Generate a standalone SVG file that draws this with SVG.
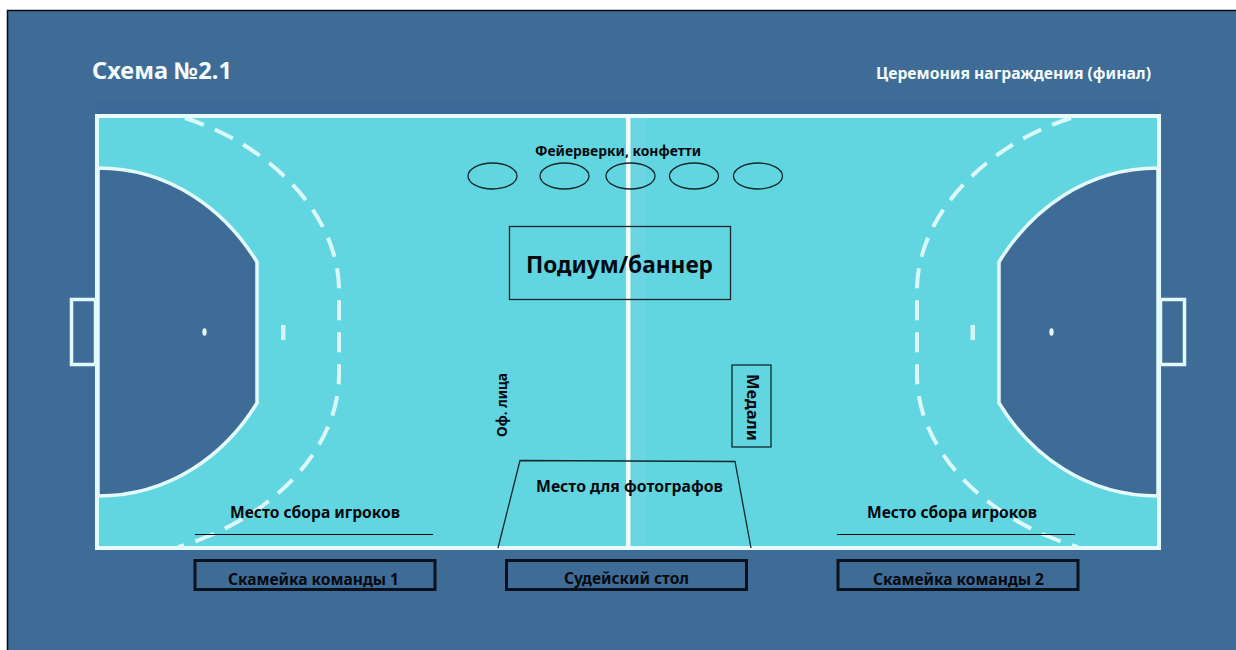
<svg xmlns="http://www.w3.org/2000/svg" xmlns:xlink="http://www.w3.org/1999/xlink" width="1236" height="650" viewBox="0 0 1236 650">
<style>
.t{font-family:"Noto Sans","Open Sans","Liberation Sans",sans-serif;font-weight:700;fill:#050a10}
.w{fill:#f4fbfd}
.line{stroke:#e4f9fb;stroke-width:3.500}
.dash{fill:none;stroke:#dcf8fa;stroke-width:4;stroke-dasharray:20 12}
.box{fill:none;stroke:#08111c;stroke-width:3}
.thin{fill:none;stroke:#12262c;stroke-width:1.300}
</style>
<defs>
<g id="half">
<path d="M98 168C170 168 225 210 257 262V403C225 455 170 496 98 496Z" fill="#3e6c96" class="line"/>
<path d="M185 118C270 145 339 215 339 290V375C339 450 270 520 178 547" class="dash"/>
<rect x="71.500" y="299.500" width="24" height="65" fill="none" class="line"/>
<ellipse cx="204.500" cy="332" rx="2.200" ry="3.800" fill="#e4f9fb"/>
<rect x="281" y="325" width="4.500" height="15" fill="#d4f6f8"/>
</g>
</defs>
<rect width="1236" height="650" fill="#fff"/>
<rect x="7.500" y="10.500" width="1240" height="650" fill="#3e6c96" stroke="#05090d" stroke-width="1.500"/>
<rect x="96" y="102" width="1064" height="12" fill="#37699a" opacity="0.4"/>
<g id="court">
<rect x="97" y="116" width="1062" height="432" fill="#62d6e0" stroke="#e8fbfc" stroke-width="4"/>
<rect x="632" y="118" width="14" height="428" fill="#7bd4e6" opacity="0.45"/>
<rect x="626" y="117" width="4.500" height="430" fill="#eefcfd"/>
<use xlink:href="#half" href="#half"/>
<use xlink:href="#half" href="#half" transform="translate(1256 0) scale(-1 1)"/>
</g>
<text class="t w" x="92" y="79" font-size="23" textLength="140" lengthAdjust="spacingAndGlyphs">Схема №2.1</text>
<text class="t w" x="876" y="79" font-size="16" textLength="275" lengthAdjust="spacingAndGlyphs">Церемония награждения (финал)</text>
<g id="fireworks">
<text class="t" x="535" y="156" font-size="14" textLength="166" lengthAdjust="spacingAndGlyphs">Фейерверки, конфетти</text>
<ellipse cx="492.500" cy="176" rx="24.500" ry="13" class="thin"/>
<ellipse cx="564.500" cy="176" rx="24.500" ry="13" class="thin"/>
<ellipse cx="630.500" cy="176" rx="24.500" ry="13" class="thin"/>
<ellipse cx="694" cy="176" rx="24.500" ry="13" class="thin"/>
<ellipse cx="758" cy="176" rx="24.500" ry="13" class="thin"/>
</g>
<g id="podium">
<rect x="509.500" y="226.500" width="221" height="73" class="thin"/>
<text class="t" x="526" y="273" font-size="23" textLength="187" lengthAdjust="spacingAndGlyphs">Подиум/баннер</text>
</g>
<g id="officials">
<text class="t" font-size="14" transform="translate(506.500 437) rotate(-90)" textLength="64" lengthAdjust="spacingAndGlyphs">Оф. лица</text>
</g>
<g id="medals">
<rect x="732" y="365" width="39" height="82" class="thin"/>
<text class="t" font-size="15.500" transform="translate(747 374) rotate(90)" textLength="67" lengthAdjust="spacingAndGlyphs">Медали</text>
</g>
<g id="photographers">
<path d="M498 548L520 460.500L735 461.500L751 548" class="thin"/>
<text class="t" x="536" y="492" font-size="16" textLength="187" lengthAdjust="spacingAndGlyphs">Место для фотографов</text>
</g>
<g id="assembly-1">
<text class="t" x="230" y="518" font-size="16" textLength="170" lengthAdjust="spacingAndGlyphs">Место сбора игроков</text>
<line x1="195" y1="534.500" x2="433" y2="534.500" stroke="#050a10" stroke-width="1.200"/>
</g>
<g id="assembly-2">
<text class="t" x="867" y="518" font-size="16" textLength="170" lengthAdjust="spacingAndGlyphs">Место сбора игроков</text>
<line x1="837" y1="534.500" x2="1075" y2="534.500" stroke="#050a10" stroke-width="1.200"/>
</g>
<g id="bench-1">
<rect x="195" y="560.500" width="240" height="29" class="box"/>
<text class="t" x="228" y="585" font-size="16" textLength="171" lengthAdjust="spacingAndGlyphs">Скамейка команды 1</text>
</g>
<g id="referee-table">
<rect x="506.500" y="560.500" width="240" height="29" class="box"/>
<text class="t" x="564" y="584" font-size="16" textLength="125" lengthAdjust="spacingAndGlyphs">Судейский стол</text>
</g>
<g id="bench-2">
<rect x="838" y="560.500" width="240" height="29" class="box"/>
<text class="t" x="873" y="585" font-size="16" textLength="171" lengthAdjust="spacingAndGlyphs">Скамейка команды 2</text>
</g>
</svg>
